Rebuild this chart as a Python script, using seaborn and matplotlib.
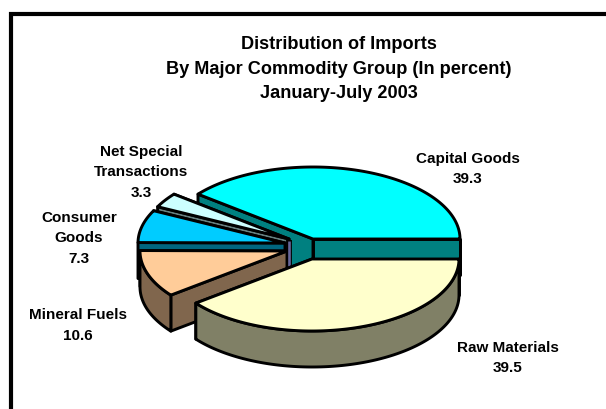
import numpy as np
import matplotlib
matplotlib.use("Agg")
import matplotlib.pyplot as plt
from matplotlib.patches import Polygon
import seaborn as sns

# Import shares, January-July 2003 (percent), counter-clockwise from the right
categories = ["Capital Goods", "Net Special\nTransactions", "Consumer\nGoods",
              "Mineral Fuels", "Raw Materials"]
shares = [39.3, 3.3, 7.3, 10.6, 39.5]
title_lines = ["Distribution of Imports",
               "By Major Commodity Group (In percent)",
               "January-July 2003"]

top_colors = sns.color_palette(["#00FFFF", "#CCFFFF", "#00CCFF", "#FFCC99", "#FFFFCC"])
wall_colors = sns.color_palette(["#008080", "#668080", "#006680", "#80664D", "#808066"])

# Layout of the tilted pie, in figure pixels
RX, RY, DEPTH = 147, 72, 36
apexes = [(313, 240), (289, 240), (285, 244), (287, 252), (312, 260)]
label_xy = [(468, 169), (141, 172.5), (79, 238.5), (78, 325.5), (508, 358)]
EDGE_LW = 2.1

sns.set_theme(style="white")
plt.rcParams["font.family"] = ["Liberation Sans", "DejaVu Sans"]

fig = plt.figure(figsize=(6.06, 4.10), dpi=100, facecolor="white")
ax = fig.add_axes([0, 0, 1, 1])
ax.set_xlim(0, 606)
ax.set_ylim(410, 0)
ax.axis("off")

# Frame: only the left and top rules fall inside the sheet
ax.plot([10.5, 10.5, 606], [410, 15, 15], color="black", lw=3.0,
        solid_joinstyle="miter", zorder=1)

edges = np.concatenate([[0], np.cumsum(shares)]) / np.sum(shares) * 2 * np.pi


def rim(cx, cy, a0, a1):
    t = np.linspace(a0, a1, 200)
    return np.column_stack([cx + RX * np.cos(t), cy - RY * np.sin(t)])


z = 2
for i in range(len(shares)):
    cx, cy = apexes[i]
    a0, a1 = edges[i], edges[i + 1]
    arc = rim(cx, cy, a0, a1)
    down = np.array([0, DEPTH])
    style = dict(edgecolor="black", lw=EDGE_LW, joinstyle="round")

    # The narrow violet inner face shows just before the last slice goes on
    if i == len(shares) - 1:
        hx, hy = apexes[1]
        ax.plot([hx, hx], [hy + 1, hy + 28], color="black", lw=4.2,
                solid_capstyle="butt", zorder=z)
        ax.plot([hx, hx], [hy + 2, hy + 28], color="#666699", lw=1.9,
                solid_capstyle="butt", zorder=z + 0.1)
        z += 1

    # Radial walls, the outer curved wall, then the top face
    for end in (arc[0], arc[-1]):
        wall = [(cx, cy), end, end + down, (cx, cy + DEPTH)]
        ax.add_patch(Polygon(wall, facecolor=wall_colors[i], zorder=z, **style))
    lower = np.sin(np.linspace(a0, a1, 200)) <= 0
    if lower.any():
        seg = arc[lower]
        outer = np.vstack([seg, (seg + down)[::-1]])
        ax.add_patch(Polygon(outer, facecolor=wall_colors[i], zorder=z, **style))
    ax.add_patch(Polygon(np.vstack([[(cx, cy)], arc]), facecolor=top_colors[i],
                         zorder=z + 0.5, **style))
    z += 1

for name, value, (x, y) in zip(categories, shares, label_xy):
    ax.text(x, y, f"{name}\n{value}", ha="center", va="center", fontsize=11.0,
            fontweight="bold", color="black", linespacing=1.56, zorder=20)

for line, y in zip(title_lines, (44.5, 69, 93.5)):
    ax.text(338.5, y, line, ha="center", va="center", fontsize=13.1,
            fontweight="bold", color="black", zorder=20)

fig.savefig("out.png", dpi=100)
